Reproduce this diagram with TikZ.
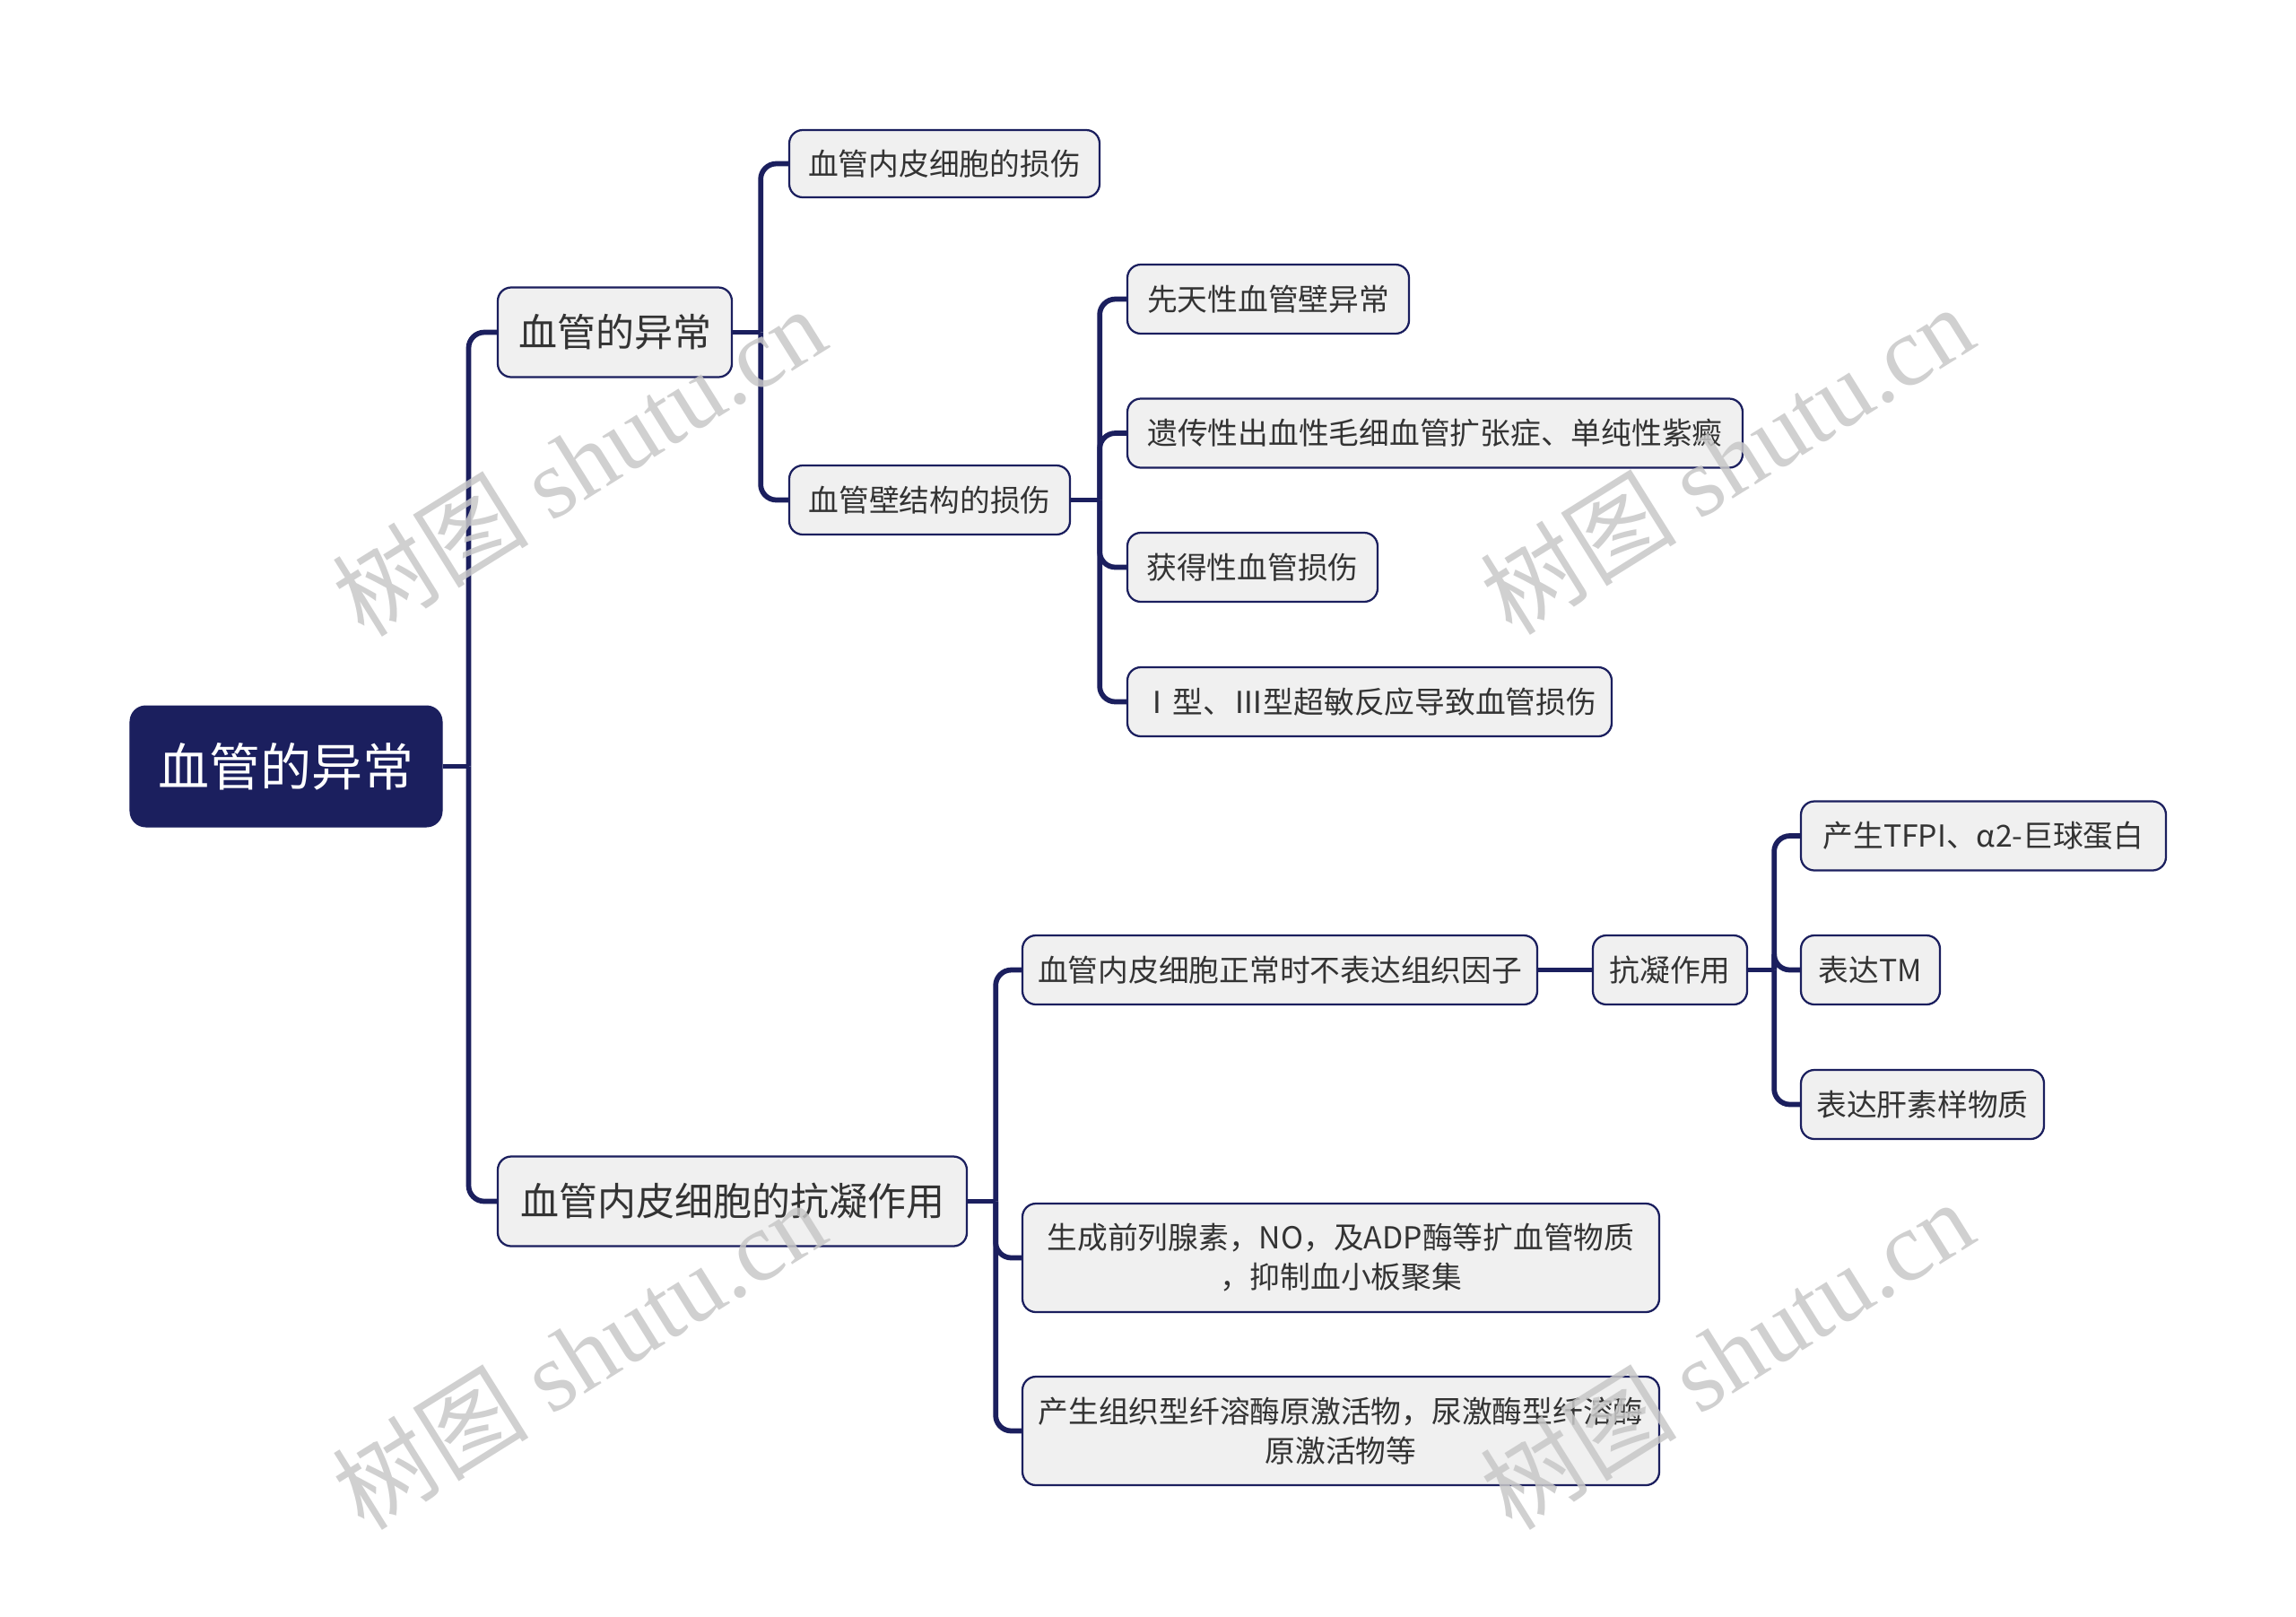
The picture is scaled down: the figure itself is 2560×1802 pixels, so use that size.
\documentclass[tikz,border=0pt]{standalone}
\usepackage{fontspec}
\setmainfont{Noto Sans CJK SC}
\newfontfamily\wmserif{Liberation Serif}
\definecolor{navy}{HTML}{1B1F5E}
\definecolor{boxfill}{HTML}{F0F0F0}
\definecolor{txt}{HTML}{333333}
\definecolor{wm}{HTML}{C8C8C8}
\begin{document}
\begin{tikzpicture}[x=0.4pt,y=-0.4pt,
  box/.style={draw=navy, line width=0.9pt, fill=boxfill, rounded corners=6pt, text=txt,
    inner sep=0pt, align=center, font=\fontsize{13.5}{17.6}\selectfont, minimum height=30.8pt},
  lone/.style={box, font=\fontsize{17.2}{20}\selectfont, minimum height=40pt},
  rootbox/.style={fill=navy, draw=navy, rounded corners=7pt, text=white, inner sep=0pt,
    font=\fontsize{22.8}{26}\selectfont, minimum width=139.2pt, minimum height=54pt},
  conn/.style={draw=navy, line width=2.3pt, rounded corners=7pt},
  wmark/.style={text=wm, text opacity=0.85, rotate=32, font=\fontsize{44}{44}\selectfont, inner sep=0pt}]
\useasboundingbox (0,0) rectangle (2560,1802);

\node[rootbox] (root) at (319,854.5) {血管的异常};

\node[lone, minimum width=104.4pt] (A) at (685.5,370.5) {血管的异常};
\node[lone, minimum width=209.2pt] (B) at (816.5,1339.5) {血管内皮细胞的抗凝作用};

\node[box, minimum width=138.4pt, minimum height=30pt] (A1) at (1053,182.5) {血管内皮细胞的损伤};
\node[box, minimum width=125.2pt] (A2) at (1036.5,557.5) {血管壁结构的损伤};

\node[box, minimum width=125.6pt] (A21) at (1414,333.5) {先天性血管壁异常};
\node[box, minimum width=274.4pt] (A22) at (1600,483) {遗传性出血性毛细血管扩张症、单纯性紫癜};
\node[box, minimum width=111.6pt] (A23) at (1396.5,632.5) {获得性血管损伤};
\node[box, minimum width=216pt] (A24) at (1527,782.5) {Ⅰ型、Ⅲ型超敏反应导致血管损伤};

\node[box, minimum width=229.6pt] (B1) at (1427,1081.5) {血管内皮细胞正常时不表达组织因子};
\node[box, minimum width=68.8pt] (B11) at (1862,1081.5) {抗凝作用};
\node[box, minimum width=162.8pt] (B111) at (2211.5,932) {产生TFPI、α2-巨球蛋白};
\node[box, minimum width=62pt] (B112) at (2085.5,1081.5) {表达TM};
\node[box, minimum width=108.4pt] (B113) at (2143.5,1231.5) {表达肝素样物质};
\node[box, minimum width=284pt, minimum height=48.4pt] (B2) at (1495,1402.5) {生成前列腺素，NO，及ADP酶等扩血管物质\\，抑制血小板聚集};
\node[box, minimum width=284pt, minimum height=48.4pt] (B3) at (1495,1595.5) {产生组织型纤溶酶原激活物，尿激酶型纤溶酶\\原激活物等};

% connectors
\path (root.east) ++(29,0) coordinate (t0);
\draw[conn] (root.east) -- (t0);
\draw[conn] (t0) |- (A.west);
\draw[conn] (t0) |- (B.west);

\path (A.east) ++(31,0) coordinate (tA);
\draw[conn] (A.east) -- (tA);
\draw[conn] (tA) |- (A1.west);
\draw[conn] (tA) |- (A2.west);

\path (A2.east) ++(32,0) coordinate (tA2);
\draw[conn] (A2.east) -- (tA2);
\foreach \c in {A21,A22,A23,A24} \draw[conn] (tA2) |- (\c.west);

\path (B.east) ++(31,0) coordinate (tB);
\draw[conn] (B.east) -- (tB);
\foreach \c in {B1,B2,B3} \draw[conn] (tB) |- (\c.west);

\draw[conn] (B1.east) -- (B11.west);
\path (B11.east) ++(29,0) coordinate (tB11);
\draw[conn] (B11.east) -- (tB11);
\foreach \c in {B111,B112,B113} \draw[conn] (tB11) |- (\c.west);

% watermarks
\node[wmark] (w1) at (645,514) {树图 {\wmserif shutu.cn}};
\node[wmark] (w2) at (1925,512) {树图 {\wmserif shutu.cn}};
\node[wmark] (w3) at (645,1510) {树图 {\wmserif shutu.cn}};
\node[wmark] (w4) at (1925,1510) {树图 {\wmserif shutu.cn}};
\end{tikzpicture}
\end{document}
